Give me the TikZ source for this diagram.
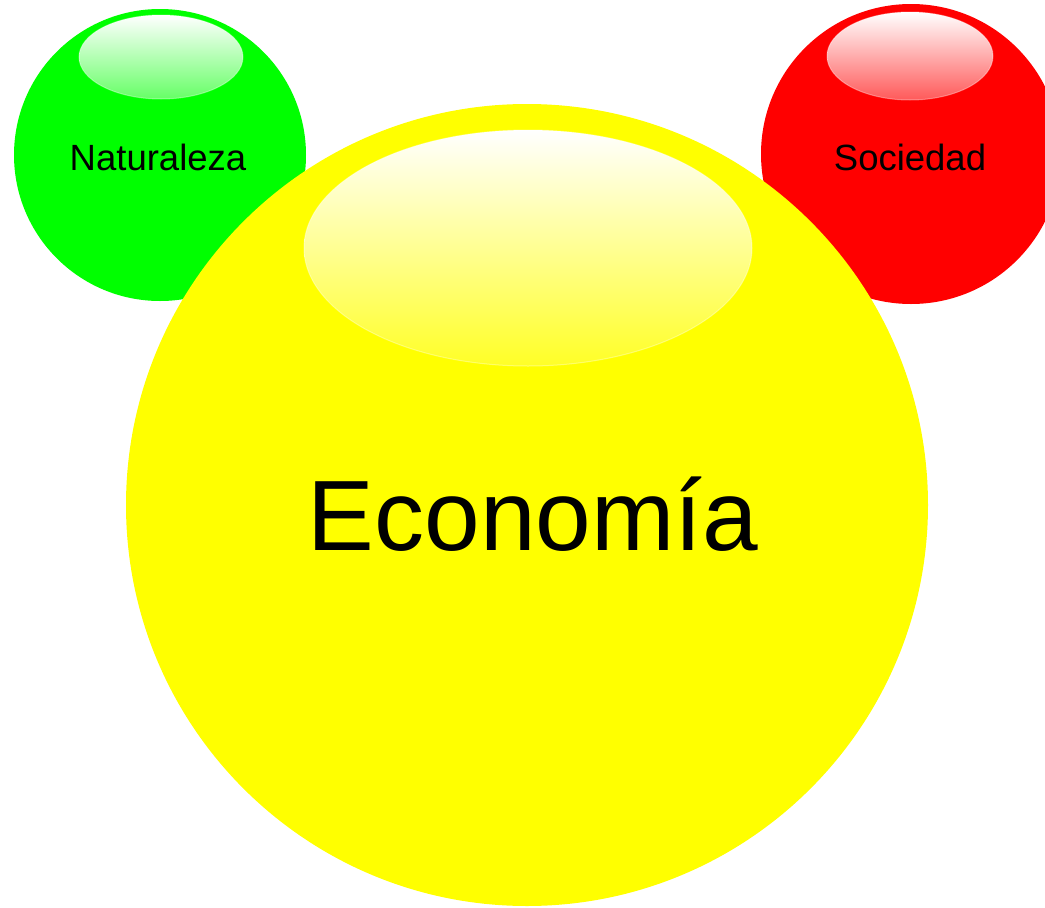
\documentclass[tikz,border=0pt]{standalone}
\usepackage{fontspec}
\setmainfont{Liberation Sans}
\definecolor{ballgreen}{HTML}{00FF00}
\definecolor{ballred}{HTML}{FF0000}
\definecolor{ballyellow}{HTML}{FFFF00}
\tikzset{
  ball/.style={circle, inner sep=0pt, draw=none},
  shine/.style={draw=white, draw opacity=0.35, line width=1pt},
  smalllabel/.style={font=\fontsize{36.5}{40}\selectfont, anchor=base, text=black},
  biglabel/.style={font=\fontsize{100}{110}\selectfont, anchor=base, text=black}
}
\begin{document}
\begin{tikzpicture}[x=1pt,y=-1pt]
\useasboundingbox (0,0) rectangle (1045,908);
\clip (0,0) rectangle (1045,908);
% Naturaleza ball
\node[ball, fill=ballgreen, minimum size=292pt] (nat) at (160,155) {};
\path[shine, top color=white, bottom color=ballgreen!60!white] (161,57) ellipse [x radius=82, y radius=42];
\node[smalllabel] (natlabel) at (158,170) {Naturaleza};
% Sociedad ball
\node[ball, fill=ballred, minimum size=300pt] (soc) at (911,154) {};
\path[shine, top color=white, bottom color=ballred!65!white] (910,56) ellipse [x radius=83, y radius=44];
\node[smalllabel] (soclabel) at (910,170) {Sociedad};
% Economia ball
\node[ball, fill=ballyellow, minimum size=802pt] (eco) at (527,505) {};
\path[shine, top color=white, bottom color=ballyellow!85!white] (528,248) ellipse [x radius=224, y radius=118];
\node[biglabel] (ecolabel) at (533,550) {Economía};
\end{tikzpicture}
\end{document}
